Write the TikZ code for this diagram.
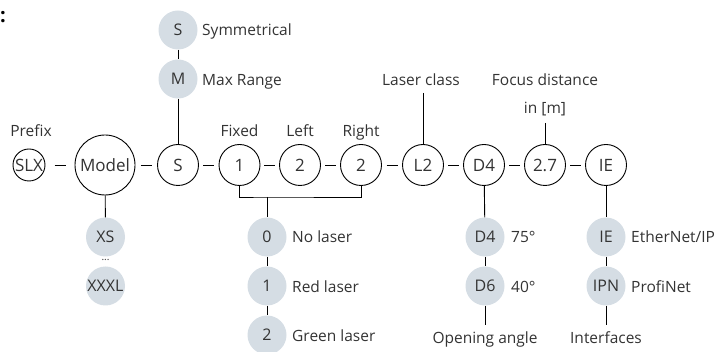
\documentclass[tikz,border=0pt]{standalone}
\usepackage{fontspec}
\setmainfont{Open Sans}
\usetikzlibrary{calc}
\definecolor{lgray}{HTML}{D5DDE4}
\definecolor{tgray}{HTML}{333333}
\tikzset{
  main/.style={circle, draw=black, line width=0.9pt, fill=white, minimum size=41pt, inner sep=0pt, font=\fontsize{17}{19}\selectfont, text=tgray},
  opt/.style={circle, fill=lgray, minimum size=39pt, inner sep=0pt, font=\fontsize{16}{18}\selectfont, text=tgray},
  lbl/.style={font=\fontsize{15.5}{17}\selectfont, text=tgray, inner sep=0pt, anchor=base},
  lblw/.style={lbl, anchor=base west},
  conn/.style={line width=0.9pt, draw=black},
}
\begin{document}
\begin{tikzpicture}[x=1pt,y=-1pt]
\useasboundingbox (0,0) rectangle (715,352);
\node[font=\fontsize{20}{20}\selectfont\bfseries, text=black, inner sep=0pt] (colon) at (3,17) {:};
% main row
\node[main, minimum size=32pt] (slx) at (29,165) {SLX};
\node[main, minimum size=60pt] (model) at (105,165) {Model};
\node[main] (s) at (178,165) {S};
\node[main] (f1) at (239.5,165) {1};
\node[main] (lft) at (300,165) {2};
\node[main] (rgt) at (361,165) {2};
\node[main] (lc) at (423,165) {L2};
\node[main] (d4) at (484,165) {D4};
\node[main] (fd) at (545,165) {2.7};
\node[main] (ie) at (606,165) {IE};
\foreach \a/\b in {slx/model, model/s, s/f1, f1/lft, lft/rgt, rgt/lc, lc/d4, d4/fd, fd/ie}
  \draw[conn] ($(\a.east)!.5!(\b.west)$) +(-5.5,0) -- +(5.5,0);
% labels above
\node[lbl] (pre) at (31,137) {Prefix};
\node[lbl] (fix) at (239.5,137) {Fixed};
\node[lbl] (lefttxt) at (300,137) {Left};
\node[lbl] (righttxt) at (361,137) {Right};
\node[lbl] (lasercls) at (421,86) {Laser class};
\coordinate (lcend) at (423,93);
\draw[conn] (lcend) -- (lc);
\node[lbl] (focus) at (545,86) {Focus distance};
\node[lbl] (inm) at (545,114) {in [m]};
\coordinate (fdend) at (545,123);
\draw[conn] (fdend) -- (fd);
% symmetry options
\node[opt] (sym) at (178,30) {S};
\node[opt] (mr) at (178,79) {M};
\draw[conn] (sym) -- (mr);
\draw[conn] (mr) -- (s);
\node[lblw] (symtxt) at (202,36) {Symmetrical};
\node[lblw] (mrtxt) at (202,86) {Max Range};
% model options
\node[opt] (xs) at (105.5,237) {XS};
\node[opt] (xxxl) at (105.5,286) {XXXL};
\node[font=\fontsize{10}{10}\selectfont, text=tgray, inner sep=0pt] (dots) at (105.5,260) {...};
\draw[conn] (model) -- (xs);
% laser options
\coordinate (bk) at (267,197);
\draw[conn] (f1.south) |- (bk) -| (rgt.south);
\node[opt] (o0) at (267,237) {0};
\node[opt] (o1) at (267,286) {1};
\node[opt] (o2) at (267,335) {2};
\draw[conn] (bk) -- (o0);
\draw[conn] (o0) -- (o1);
\draw[conn] (o1) -- (o2);
\node[lblw] (t0) at (292,243) {No laser};
\node[lblw] (t1) at (292,293) {Red laser};
\node[lblw] (t2) at (292,342) {Green laser};
% opening angle
\node[opt] (od4) at (485,237) {D4};
\node[opt] (od6) at (485,286) {D6};
\draw[conn] (d4) -- (od4);
\draw[conn] (od4) -- (od6);
\coordinate (oaend) at (485,325);
\draw[conn] (od6) -- (oaend);
\node[lblw] (t75) at (511,243) {75°};
\node[lblw] (t40) at (511,293) {40°};
\node[lbl] (oa) at (485,344) {Opening angle};
% interfaces
\node[opt] (oie) at (606,237) {IE};
\node[opt] (oipn) at (606,286) {IPN};
\draw[conn] (ie) -- (oie);
\draw[conn] (oie) -- (oipn);
\coordinate (ifend) at (606,325);
\draw[conn] (oipn) -- (ifend);
\node[lblw] (teip) at (631,243) {EtherNet/IP};
\node[lblw] (tpn) at (631,293) {ProfiNet};
\node[lbl] (intf) at (606,344) {Interfaces};
\end{tikzpicture}
\end{document}
